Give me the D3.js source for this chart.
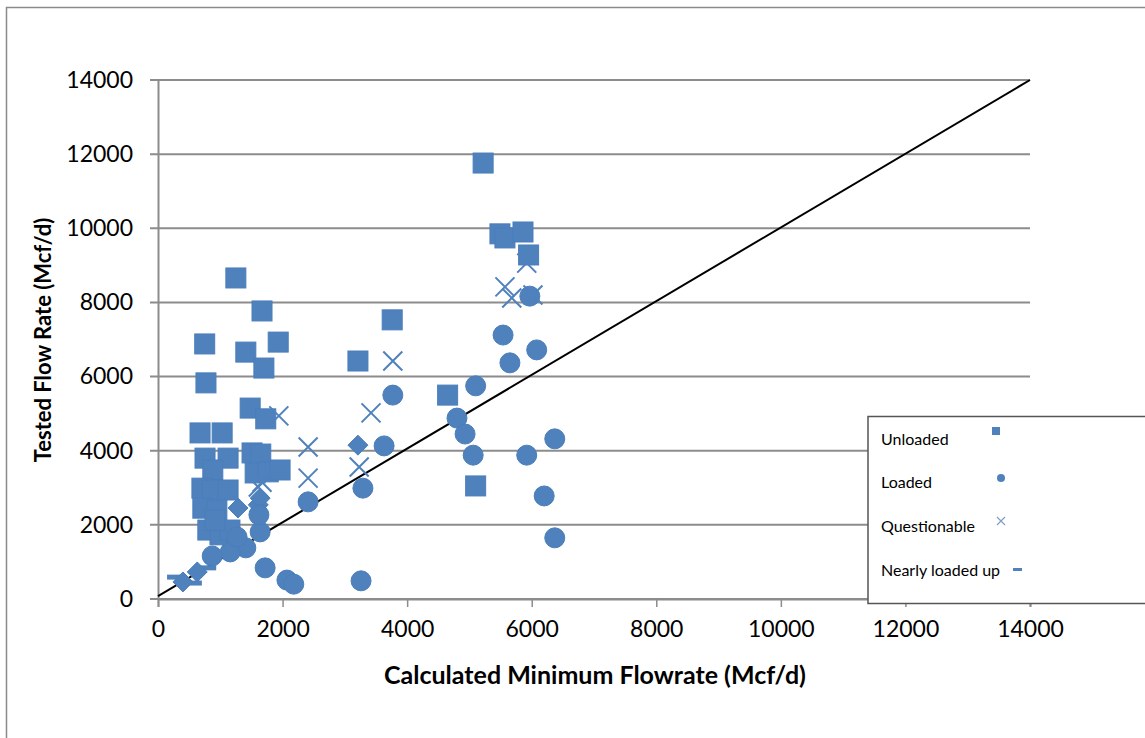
<!DOCTYPE html>
<html><head><meta charset="utf-8">
<script src="https://cdn.jsdelivr.net/npm/d3@7"></script>
<style>body{margin:0;background:#fff}svg{display:block}text{font-family:Lato,"Open Sans",sans-serif}</style>
</head><body>
<script>
const unloaded = [[5220,11760],[5490,9850],[5570,9740],[5860,9900],[5950,9280],[3760,7530],[3210,6420],[4650,5500],[5100,3050],[1250,8660],[1670,7770],[1930,6930],[750,6880],[1410,6660],[1700,6230],[770,5830],[1480,5150],[1730,4860],[675,4480],[1030,4480],[1510,3940],[1650,3910],[1560,3400],[1770,3430],[1960,3480],[755,3800],[1125,3800],[880,3480],[705,2990],[865,2940],[1125,2940],[720,2450],[945,2400],[800,1860],[995,1730],[1155,1860],[915,2130]];
const loaded = [[5970,8170],[5540,7120],[6080,6720],[5650,6370],[3770,5500],[5100,5750],[4800,4880],[4930,4450],[5060,3880],[5920,3880],[6370,4320],[6200,2780],[6370,1650],[3630,4130],[3290,2990],[3260,490],[2410,2620],[2070,510],[2180,400],[1720,840],[1640,1810],[1620,2270],[1410,1380],[1160,1270],[870,1160],[1270,1670]];
const questionable = [[5920,9060],[5570,8420],[5680,8120],[6020,8200],[3770,6420],[3420,5020],[3230,3560],[2410,4100],[2410,3260],[1940,4940],[1670,3150],[1610,3020]];
const otherPoints = [[3210,4150],[1610,2540],[1640,2720],[1285,2455],[400,460],[630,730]];
const nearlyLoaded = [[290,590],[560,430],[790,840]];
const diagonal = [[0,80],[14000,14000]];
const xTicks = [0,2000,4000,6000,8000,10000,12000,14000];
const yTicks = [0,2000,4000,6000,8000,10000,12000,14000];
const legendNames = ["Unloaded","Loaded","Questionable","Nearly loaded up"];
const xTitle = "Calculated Minimum Flowrate (Mcf/d)";
const yTitle = "Tested Flow Rate (Mcf/d)";

const W=1145,H=738, blue="#4F81BD", grid="#8C8C8C";
const svg=d3.select("body").append("svg").attr("width",W).attr("height",H);
// outer border
svg.append("path").attr("d",`M6.5,${H}V7.5H${W}`).attr("fill","none").attr("stroke","#8a8a8a").attr("stroke-width",1.5);

const x=d3.scaleLinear().domain([0,14000]).range([158,1030]);
const y=d3.scaleLinear().domain([0,14000]).range([599,80]);

// gridlines
svg.append("g").selectAll("line").data(yTicks).join("line")
  .attr("x1",150).attr("x2",1030).attr("y1",d=>y(d)).attr("y2",d=>y(d))
  .attr("stroke",grid).attr("stroke-width",2);
// y axis
const ya=svg.append("g").attr("transform","translate(158,0)").call(d3.axisLeft(y).tickValues(yTicks).tickSize(0).tickPadding(25).tickFormat(d3.format("d")));
ya.select(".domain").attr("stroke",grid).attr("stroke-width",2);
ya.selectAll("text").attr("font-size",23).attr("fill","#000").attr("font-family","Lato");
// x axis
const xa=svg.append("g").attr("transform","translate(0,599)").call(d3.axisBottom(x).tickValues(xTicks).tickSize(8).tickPadding(14).tickFormat(d3.format("d")));
xa.select(".domain").attr("stroke",grid).attr("stroke-width",2);
xa.selectAll("line").attr("stroke",grid).attr("stroke-width",1.5);
xa.selectAll("text").attr("font-size",23).attr("fill","#000").attr("font-family","Lato");

// diagonal
svg.append("line").attr("x1",x(diagonal[0][0])).attr("y1",y(diagonal[0][1])).attr("x2",x(diagonal[1][0])).attr("y2",y(diagonal[1][1]))
  .attr("stroke","#000").attr("stroke-width",2);

const pts=svg.append("g");
pts.selectAll(".dash").data(nearlyLoaded).join("rect").attr("x",d=>x(d[0])-9).attr("y",d=>y(d[1])-2.5).attr("width",18).attr("height",5).attr("fill",blue);
pts.selectAll(".dia").data(otherPoints).join("path").attr("d",d=>{const cx=x(d[0]),cy=y(d[1]);return `M${cx},${cy-10}L${cx+10},${cy}L${cx},${cy+10}L${cx-10},${cy}Z`;}).attr("fill",blue).attr("stroke","#4A7EBB");
pts.selectAll(".sq").data(unloaded).join("rect").attr("x",d=>x(d[0])-10).attr("y",d=>y(d[1])-10).attr("width",20).attr("height",20).attr("fill",blue).attr("stroke","#4A7EBB").attr("stroke-width",1);
pts.selectAll(".ci").data(loaded).join("circle").attr("cx",d=>x(d[0])).attr("cy",d=>y(d[1])).attr("r",10).attr("fill",blue).attr("stroke","#4A7EBB");
pts.selectAll(".qx").data(questionable).join("path").attr("d",d=>{const cx=x(d[0]),cy=y(d[1]),s=9.5;return `M${cx-s},${cy-s}L${cx+s},${cy+s}M${cx-s},${cy+s}L${cx+s},${cy-s}`;}).attr("fill","none").attr("stroke",blue).attr("stroke-width",2);

// titles
svg.append("text").attr("x",595).attr("y",684).attr("text-anchor","middle").attr("font-size",25).attr("font-weight","bold").text(xTitle);
svg.append("text").attr("transform","translate(51,340) rotate(-90)").attr("text-anchor","middle").attr("font-size",22).attr("font-weight","bold").text(yTitle);

// legend
const lg=svg.append("g");
lg.append("rect").attr("x",868).attr("y",416.5).attr("width",300).attr("height",187).attr("fill","#fff").attr("stroke","#555").attr("stroke-width",1.5);
const ly=[445,488,532,576];
lg.selectAll("text").data(legendNames).join("text").attr("x",881).attr("y",(d,i)=>ly[i]).attr("font-size",16).attr("fill","#000").text(d=>d);
lg.append("rect").attr("x",992).attr("y",427).attr("width",8).attr("height",8).attr("fill",blue);
lg.append("circle").attr("cx",1001).attr("cy",478).attr("r",4).attr("fill",blue);
lg.append("path").attr("d","M997,517L1005,525M997,525L1005,517").attr("stroke","#7f9fce").attr("stroke-width",1.2);
lg.append("rect").attr("x",1013).attr("y",568).attr("width",9).attr("height",3).attr("fill",blue);
</script>
</body></html>
